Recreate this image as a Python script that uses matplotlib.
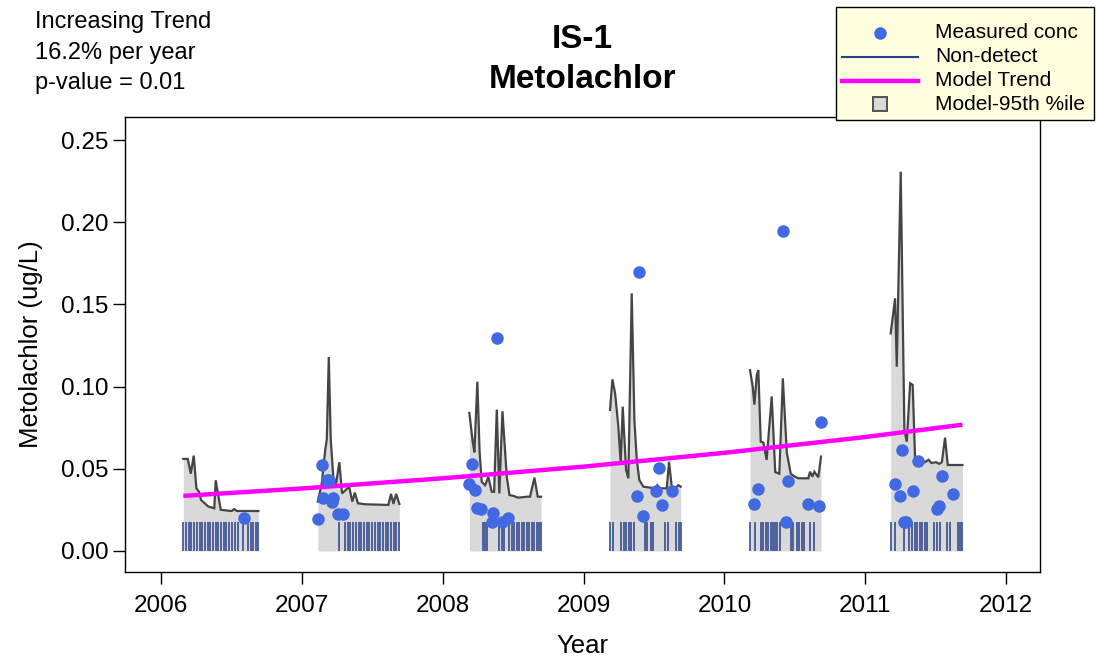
import matplotlib
matplotlib.use("Agg")
import matplotlib.pyplot as plt
from matplotlib.lines import Line2D
from matplotlib.patches import Rectangle

plt.rcParams['font.family'] = ['Liberation Sans', 'DejaVu Sans']

# ---- Model 95th percentile line, one list per season ----
m2006_x = [2006.158, 2006.190, 2006.211, 2006.232, 2006.251, 2006.270, 2006.284, 2006.336,
           2006.378, 2006.388, 2006.424, 2006.502, 2006.520, 2006.538, 2006.691]
m2006_y = [0.056, 0.056, 0.047, 0.058, 0.038, 0.036, 0.031, 0.027,
           0.026, 0.043, 0.025, 0.0243, 0.0255, 0.0243, 0.0243]

m2007_x = [2007.113, 2007.141, 2007.165, 2007.177, 2007.191, 2007.205, 2007.223, 2007.243,
           2007.266, 2007.285, 2007.310, 2007.336, 2007.358, 2007.376, 2007.398, 2007.449,
           2007.614, 2007.633, 2007.650, 2007.669, 2007.692]
m2007_y = [0.030, 0.041, 0.061, 0.068, 0.118, 0.068, 0.045, 0.041,
           0.054, 0.035, 0.037, 0.039, 0.030, 0.0355, 0.029, 0.0284,
           0.028, 0.0347, 0.0286, 0.0347, 0.0286]

m2008_x = [2008.189, 2008.213, 2008.225, 2008.246, 2008.262, 2008.277, 2008.301, 2008.324,
           2008.348, 2008.365, 2008.384, 2008.402, 2008.424, 2008.455, 2008.474, 2008.502,
           2008.537, 2008.597, 2008.620, 2008.651, 2008.675, 2008.698]
m2008_y = [0.084, 0.0665, 0.060, 0.103, 0.060, 0.042, 0.040, 0.045,
           0.036, 0.036, 0.086, 0.035, 0.085, 0.045, 0.034, 0.0335,
           0.0324, 0.033, 0.033, 0.0446, 0.033, 0.033]

m2009_x = [2009.188, 2009.205, 2009.224, 2009.247, 2009.264, 2009.278, 2009.302, 2009.318,
           2009.342, 2009.361, 2009.378, 2009.396, 2009.425, 2009.508, 2009.524, 2009.543,
           2009.591, 2009.607, 2009.626, 2009.650, 2009.673, 2009.690]
m2009_y = [0.0858, 0.1044, 0.0959, 0.0756, 0.0533, 0.0878, 0.0493, 0.0442,
           0.1567, 0.0797, 0.0554, 0.0432, 0.0391, 0.0381, 0.040, 0.0381,
           0.0381, 0.0543, 0.0391, 0.0381, 0.040, 0.0391]

m2010_x = [2010.182, 2010.201, 2010.213, 2010.230, 2010.241, 2010.258, 2010.277, 2010.300,
           2010.336, 2010.361, 2010.390, 2010.415, 2010.443, 2010.471, 2010.500, 2010.525,
           2010.596, 2010.608, 2010.625, 2010.639, 2010.667, 2010.686]
m2010_y = [0.110, 0.100, 0.089, 0.107, 0.110, 0.0665, 0.0659, 0.0554,
           0.094, 0.048, 0.047, 0.105, 0.060, 0.047, 0.0452, 0.0442,
           0.0442, 0.0482, 0.0452, 0.0482, 0.0448, 0.0574]

m2011_x = [2011.181, 2011.212, 2011.224, 2011.252, 2011.278, 2011.295, 2011.319, 2011.337,
           2011.354, 2011.378, 2011.402, 2011.425, 2011.449, 2011.470, 2011.503, 2011.525,
           2011.544, 2011.567, 2011.586, 2011.690]
m2011_y = [0.1324, 0.1537, 0.1121, 0.2307, 0.0736, 0.0665, 0.102, 0.101,
           0.0564, 0.0545, 0.0555, 0.0540, 0.0555, 0.0535, 0.0540, 0.0530,
           0.0540, 0.0689, 0.0523, 0.0523]

# ---- Non-detect sample dates ----
nondetect_years = [
    2006.158, 2006.177, 2006.196, 2006.215, 2006.234, 2006.254, 2006.273, 2006.292, 2006.311,
    2006.330, 2006.349, 2006.368, 2006.388, 2006.407, 2006.426, 2006.445, 2006.464, 2006.483,
    2006.502, 2006.522, 2006.545, 2006.580, 2006.616, 2006.636, 2006.655, 2006.672, 2006.688,
    2007.264, 2007.307, 2007.326, 2007.345, 2007.364, 2007.383, 2007.403, 2007.422, 2007.441,
    2007.460, 2007.479, 2007.498, 2007.518, 2007.537, 2007.556, 2007.575, 2007.594, 2007.613,
    2007.633, 2007.652, 2007.671, 2007.690,
    2008.284, 2008.300, 2008.317, 2008.402, 2008.419, 2008.436, 2008.473, 2008.490, 2008.507,
    2008.526, 2008.544, 2008.561, 2008.578, 2008.597, 2008.615, 2008.632, 2008.649, 2008.668,
    2008.686, 2008.698,
    2009.188, 2009.206, 2009.266, 2009.284, 2009.302, 2009.320, 2009.337, 2009.355, 2009.437,
    2009.454, 2009.479, 2009.494, 2009.579, 2009.597, 2009.657, 2009.675, 2009.689,
    2010.182, 2010.218, 2010.258, 2010.277, 2010.296, 2010.312, 2010.329, 2010.344, 2010.360,
    2010.376, 2010.395, 2010.471, 2010.490, 2010.514, 2010.532, 2010.549, 2010.566, 2010.608,
    2010.639,
    2011.183, 2011.212, 2011.276, 2011.311, 2011.333, 2011.350, 2011.368, 2011.386, 2011.404,
    2011.421, 2011.439, 2011.489, 2011.510, 2011.531, 2011.578, 2011.603, 2011.656, 2011.673,
    2011.688,
]
nondetect_level = 0.0178

# ---- Measured (detected) concentrations ----
det_years = [2006.589,
             2007.113, 2007.141, 2007.148, 2007.177, 2007.191, 2007.212, 2007.223, 2007.255, 2007.290,
             2008.189, 2008.211, 2008.230, 2008.246, 2008.270, 2008.348, 2008.360, 2008.384, 2008.424, 2008.462,
             2009.382, 2009.396, 2009.420, 2009.513, 2009.538, 2009.555, 2009.631,
             2010.213, 2010.241, 2010.414, 2010.436, 2010.454, 2010.592, 2010.674, 2010.686,
             2011.212, 2011.248, 2011.259, 2011.276, 2011.293, 2011.337, 2011.373, 2011.508, 2011.527,
             2011.544, 2011.622]
det_conc = [0.020,
            0.0195, 0.052, 0.0325, 0.043, 0.043, 0.0296, 0.0325, 0.0225, 0.0225,
            0.0406, 0.0527, 0.0371, 0.0263, 0.0254, 0.0175, 0.0229, 0.1297, 0.0175, 0.0199,
            0.0335, 0.170, 0.0213, 0.0365, 0.0507, 0.028, 0.0365,
            0.0286, 0.0375, 0.1948, 0.0175, 0.0426, 0.0286, 0.0274, 0.0787,
            0.0406, 0.0335, 0.0614, 0.0178, 0.0178, 0.0365, 0.0547, 0.0254, 0.0274,
            0.0456, 0.0345]

# ---- Model trend ----
trend_years = [2006.158, 2007.0, 2008.0, 2009.0, 2010.0, 2011.0, 2011.690]
trend_vals = [0.0335, 0.0380, 0.0442, 0.0513, 0.0597, 0.0693, 0.0768]

x_ticks = [2006, 2007, 2008, 2009, 2010, 2011, 2012]
y_ticks = [0.00, 0.05, 0.10, 0.15, 0.20, 0.25]
y_ticklabels = ['0.00', '0.05', '0.10', '0.15', '0.20', '0.25']

title_lines = ['IS-1', 'Metolachlor']
stats_lines = ['Increasing Trend', '16.2% per year', 'p-value = 0.01']
legend_labels = ['Measured conc', 'Non-detect', 'Model Trend', 'Model-95th %ile']

# colours
c_fill = '#D9D9D9'
c_model = '#454545'
c_nd = '#27408B'
c_dot = '#4169E1'
c_trend = '#FF00FF'

W, H = 1096, 657
fig = plt.figure(figsize=(W / 100, H / 100), dpi=100)
ax = fig.add_axes([125 / W, 1 - 572 / H, (1040 - 125) / W, (572 - 117) / H])

seasons = [(m2006_x, m2006_y), (m2007_x, m2007_y), (m2008_x, m2008_y),
           (m2009_x, m2009_y), (m2010_x, m2010_y), (m2011_x, m2011_y)]
for sx, sy in seasons:
    ax.fill_between(sx, 0, sy, color=c_fill, lw=0, zorder=1)
for sx, sy in seasons:
    ax.plot(sx, sy, color=c_model, lw=1.6, zorder=2, solid_joinstyle='miter')

ax.vlines(nondetect_years, 0, nondetect_level, color=c_nd, lw=1.1, zorder=3)
ax.plot(trend_years, trend_vals, color=c_trend, lw=3.2, zorder=4, solid_capstyle='butt')
ax.plot(det_years, det_conc, 'o', color=c_dot, ms=9, mew=0, zorder=5)

ax.set_xlim(2005.744, 2012.241)
ax.set_ylim(-0.0128, 0.264)
ax.set_xticks(x_ticks)
ax.set_xticklabels([str(v) for v in x_ticks])
ax.set_yticks(y_ticks)
ax.set_yticklabels(y_ticklabels)
ax.tick_params(axis='both', direction='out', length=8.6, width=1, labelsize=17.5, colors='black')
ax.tick_params(axis='x', pad=8)
ax.tick_params(axis='y', pad=3.5)
for sp in ax.spines.values():
    sp.set_linewidth(1.0)
    sp.set_color('black')

ax.set_xlabel('Year', fontsize=18.5, labelpad=12)
ax.set_ylabel('Metolachlor (ug/L)', fontsize=18.5, labelpad=13)

cx = (125 + 1040) / 2 / W
fig.text(cx, 1 - 40 / H, title_lines[0], ha='center', va='center', fontsize=24, fontweight='bold')
fig.text(cx, 1 - 80 / H, title_lines[1], ha='center', va='center', fontsize=24, fontweight='bold')

for line, ypx in zip(stats_lines, [22, 53, 83]):
    fig.text(35 / W, 1 - ypx / H, line, ha='left', va='center', fontsize=17)

# ---- legend box drawn in figure pixels ----
def fx(px):
    return px / W

def fy(py):
    return 1 - py / H

tf = fig.transFigure
fig.patches.append(Rectangle((fx(836), fy(120)), fx(1094) - fx(836), fy(7) - fy(120),
                             transform=tf, facecolor='#FFFFE0', edgecolor='black', lw=1.0, zorder=10))
rows = [33, 57, 81, 104]
fig.lines.append(Line2D([fx(880)], [fy(rows[0])], marker='o', ls='none', color=c_dot,
                        ms=9, mew=0, transform=tf, zorder=11))
fig.lines.append(Line2D([fx(842), fx(918)], [fy(rows[1])] * 2, color=c_nd, lw=1.5,
                        transform=tf, zorder=11))
fig.lines.append(Line2D([fx(842), fx(918)], [fy(rows[2])] * 2, color=c_trend, lw=3.2,
                        transform=tf, zorder=11))
fig.lines.append(Line2D([fx(880)], [fy(rows[3])], marker='s', ls='none', mfc=c_fill,
                        mec='#454545', ms=10, mew=1.3, transform=tf, zorder=11))
for lab, ypx in zip(legend_labels, rows):
    fig.text(fx(935), fy(ypx), lab, ha='left', va='center', fontsize=15, zorder=12)

fig.savefig('out.png', dpi=100)
